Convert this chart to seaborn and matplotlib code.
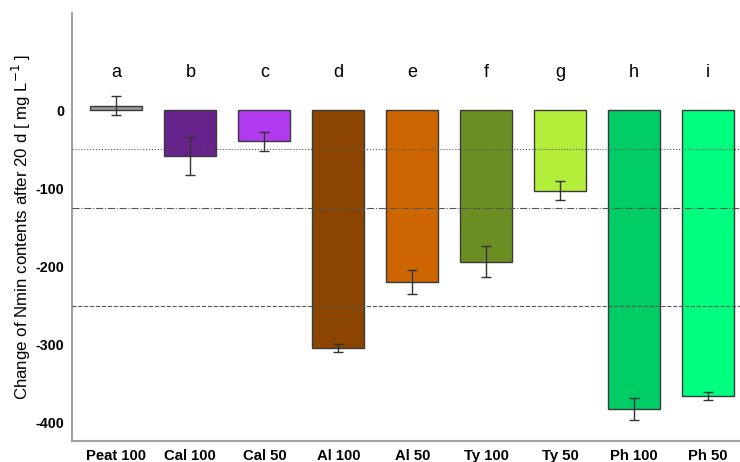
import matplotlib
matplotlib.use("Agg")
import matplotlib.pyplot as plt
import seaborn as sns
import pandas as pd
import numpy as np

# values
treatments = ["Peat 100", "Cal 100", "Cal 50", "Al 100", "Al 50",
              "Ty 100", "Ty 50", "Ph 100", "Ph 50"]
change = [6, -58.5, -39.5, -304.5, -220, -194, -103, -383, -366]
err = [12, 24, 12, 5, 15, 20, 12, 14, 5.5]
letters = ["a", "b", "c", "d", "e", "f", "g", "h", "i"]
colors = ["#999999", "#68228B", "#B23AEE", "#8B4500", "#CD6600",
          "#6B8E23", "#B3EE3A", "#00CD66", "#00FF7F"]
ref_lines = [-50, -125, -250]
ref_styles = [":", "-.", "--"]

df = pd.DataFrame({"treatment": treatments, "change": change})

sns.set_style("white")
plt.rcParams['font.family'] = ['Liberation Sans', 'DejaVu Sans']

fig = plt.figure(figsize=(7.4, 4.62), dpi=100)
ax = fig.add_axes([0.0973, 0.0455, 0.9027, 0.9264])

sns.barplot(data=df, x="treatment", y="change", hue="treatment",
            palette=colors, order=treatments, hue_order=treatments,
            errorbar=None, width=0.7, saturation=1, edgecolor="#3a3a3a",
            linewidth=1.0, legend=False, ax=ax, zorder=2)

ax.errorbar(np.arange(len(treatments)), change, yerr=err, fmt="none",
            ecolor="#333333", elinewidth=1.0, capsize=3.5, capthick=1.0, zorder=4)

for y, ls in zip(ref_lines, ref_styles):
    ax.axhline(y, color="#555555", linestyle=ls, linewidth=0.8, zorder=3)

for i, lab in enumerate(letters):
    ax.text(i, 48, lab, ha="center", va="center", fontsize=13, color="black")

ax.set_xlim(-0.6, 8.43)
ax.set_ylim(-423.4, 124.6)
ax.set_yticks([0, -100, -200, -300, -400])
ax.set_yticklabels(["0", "-100", "-200", "-300", "-400"])
ax.set_xlabel("")
ax.set_ylabel("Change of Nmin contents after 20 d [ mg L$^{-1}$ ]",
              fontsize=12.2, color="black")
ax.yaxis.set_label_coords(-0.059, 0.5)

for s in ["top", "right"]:
    ax.spines[s].set_visible(False)
for s in ["left", "bottom"]:
    ax.spines[s].set_color("#a0a0a0")
    ax.spines[s].set_linewidth(1.5)

ax.tick_params(axis="x", direction="out", length=3, width=1,
               color="#555555", labelsize=10.7, labelcolor="black", pad=3)
ax.tick_params(axis="y", direction="out", length=3, width=1,
               color="#555555", labelsize=10.3, labelcolor="black", pad=2.5)
for t in ax.get_xticklabels() + ax.get_yticklabels():
    t.set_fontweight("bold")

fig.savefig("out.png", dpi=100)
